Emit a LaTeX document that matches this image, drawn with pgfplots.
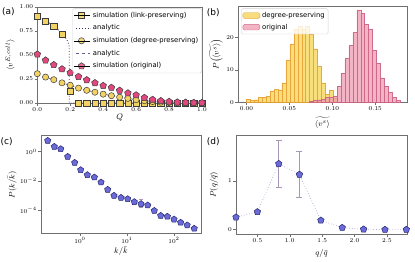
\documentclass[border=0pt]{standalone}
\usepackage{fontspec}
\setsansfont{DejaVu Sans}
\usepackage{pgfplots}
\pgfplotsset{compat=1.18}
\usetikzlibrary{plotmarks}

\definecolor{goldm}{HTML}{F2D260}
\definecolor{pinkm}{HTML}{E2487F}
\definecolor{bluem}{HTML}{6A6AD8}
\definecolor{bluee}{HTML}{26266E}
\definecolor{edgem}{HTML}{3C3C3C}
\definecolor{framec}{HTML}{707070}
\definecolor{anaA}{HTML}{2E2E5E}
\definecolor{anaB}{HTML}{6A5A94}
\definecolor{histY}{HTML}{F7D14A}
\definecolor{histYe}{HTML}{E6A035}
\definecolor{histP}{HTML}{EE98AE}
\definecolor{histPe}{HTML}{CC6283}
\definecolor{errc}{HTML}{A898B8}
\definecolor{linec}{HTML}{ABA2CF}

\pgfplotsset{
  mpl/.style={
    scale only axis,
    anchor=south west,
    axis line style={framec, line width=0.6pt},
    every tick/.style={framec, line width=0.5pt},
    tick align=outside,
    tick pos=left,
    major tick length=2.6pt,
    minor tick length=1.5pt,
    scaled x ticks=false, scaled y ticks=false,
    tick label style={font=\fontsize{6.5}{7.5}\selectfont, inner sep=1.5pt},
    label style={font=\fontsize{8.2}{9.5}\selectfont, inner sep=0pt},
    legend style={font=\sffamily\fontsize{6.8}{7.5}\selectfont, draw=black!18, fill=white, fill opacity=0.8, text opacity=1, rounded corners=1.5pt, inner sep=1.5pt, row sep=2pt},
    legend cell align=left,
  },
  mleg/.style={legend image code/.code={\draw[##1] plot coordinates {(7pt,0pt)}; \path (0pt,0pt) -- (16pt,0pt);}},
  lleg/.style={legend image code/.code={\draw[##1] (2pt,0pt) -- (16pt,0pt);}},
  hleg/.style={legend image code/.code={\draw[##1] (0pt,-2.8pt) rectangle (17pt,2.8pt);}},
}

\begin{document}
\begin{tikzpicture}
\path[use as bounding box] (0pt,0pt) rectangle (415pt,262pt);

% ---------------- (a)
\begin{axis}[mpl, at={(37.3pt,159pt)}, width=164.7pt, height=96pt,
  xmin=0, xmax=1, ymin=0, ymax=1, clip=false,
  xtick={0,0.2,0.4,0.6,0.8,1}, ytick={0,0.25,0.5,0.75,1},
  xticklabel style={/pgf/number format/.cd, fixed, fixed zerofill, precision=1},
  yticklabel style={/pgf/number format/.cd, fixed, fixed zerofill, precision=2},
  xlabel={$Q$}, ylabel={$\langle v^{E,cell}\rangle$},
  x label style={at={(axis description cs:0.5,-0.15)}, anchor=center},
  y label style={at={(axis description cs:-0.165,0.5)}, anchor=center},
  legend style={at={(1,0.985)}, anchor=north east},
]
\addplot[only marks, mark=square*, mark size=3.1pt, mark options={fill=goldm, draw=edgem, line width=0.5pt}, mleg] coordinates {
(0,0.907) (0.05,0.855) (0.1,0.797) (0.15,0.712) (0.2,0.122) (0.25,0) (0.3,0) (0.35,0) (0.4,0) (0.45,0) (0.5,0) (0.55,0) (0.6,0) (0.65,0) (0.7,0) (0.75,0) (0.8,0) (0.85,0) (0.9,0) (0.95,0) (1.0,0)};
\addlegendentry{simulation (link-preserving)}
\addplot[anaA, dotted, line width=0.8pt, lleg] coordinates {
(0,0.912) (0.025,0.885) (0.05,0.858) (0.075,0.83) (0.1,0.80) (0.125,0.765) (0.15,0.725) (0.165,0.695) (0.175,0.67) (0.185,0.64) (0.19,0.615) (0.194,0.586) (0.194,0) (1,0)};
\addlegendentry{analytic}
\addplot[only marks, mark=*, mark size=3.1pt, mark options={fill=goldm, draw=edgem, line width=0.5pt}, mleg] coordinates {
(0,0.305) (0.05,0.27) (0.1,0.243) (0.15,0.21) (0.2,0.185) (0.25,0.155) (0.3,0.132) (0.35,0.112) (0.4,0.092) (0.45,0.076) (0.5,0.06) (0.55,0.048) (0.6,0.034) (0.65,0.024) (0.7,0.015) (0.75,0.009) (0.8,0.005) (0.85,0.003) (0.9,0.002) (0.95,0.001) (1.0,0.001)};
\addlegendentry{simulation (degree-preserving)}
\addplot[anaB, dashed, line width=0.8pt, lleg] coordinates {
(0,0.30) (0.05,0.268) (0.1,0.24) (0.15,0.21) (0.2,0.183) (0.25,0.156) (0.3,0.133) (0.35,0.112) (0.4,0.093) (0.45,0.076) (0.5,0.061) (0.55,0.047) (0.6,0.035) (0.65,0.025) (0.7,0.016) (0.75,0.009) (0.8,0.004) (0.85,0.001) (0.9,0) (1,0)};
\addlegendentry{analytic}
\addplot[only marks, mark=pentagon*, mark size=3.5pt, mark options={fill=pinkm, draw=edgem, line width=0.5pt}, mleg] coordinates {
(0,0.507) (0.05,0.445) (0.1,0.397) (0.15,0.353) (0.2,0.315) (0.25,0.274) (0.3,0.24) (0.35,0.209) (0.4,0.18) (0.45,0.16) (0.5,0.13) (0.55,0.103) (0.6,0.082) (0.65,0.055) (0.7,0.035) (0.75,0.022) (0.8,0.014) (0.85,0.008) (0.9,0.005) (0.95,0.003) (1.0,0.002)};
\addlegendentry{simulation (original)}
\end{axis}

% ---------------- (b)
\begin{axis}[mpl, at={(238pt,159.7pt)}, width=169pt, height=96.3pt,
  xmin=-0.0098, xmax=0.187, ymin=0, ymax=29.7,
  xtick={0,0.05,0.1,0.15}, ytick={0,10,20},
  xticklabel style={/pgf/number format/.cd, fixed, fixed zerofill, precision=2},
  xlabel={$\widetilde{\langle v^{s}\rangle}$}, ylabel={$P\big(\widetilde{\langle v^{s}\rangle}\big)$},
  x label style={at={(axis description cs:0.5,-0.21)}, anchor=center},
  y label style={at={(axis description cs:-0.13,0.5)}, anchor=center},
  legend style={at={(0.018,0.974)}, anchor=north west, row sep=1pt},
]
\addplot[ybar interval, fill=histY, fill opacity=0.72, draw=histYe, draw opacity=0.9, line width=0.4pt, hleg] table {
0.0000 1.0
0.0046 0.5
0.0092 0.8
0.0138 1.5
0.0184 1.6
0.0230 2.0
0.0276 3.5
0.0322 4.0
0.0368 3.8
0.0414 6.0
0.0460 13.0
0.0506 18.0
0.0552 22.5
0.0598 23.5
0.0644 22.5
0.0690 23.5
0.0736 21.0
0.0782 16.5
0.0828 11.0
0.0874 6.0
0.0920 2.5
0.0966 3.8
0.1012 1.2
0.1058 0
};
\addlegendentry{degree-preserving}
\addplot[ybar interval, fill=histP, fill opacity=0.72, draw=histPe, draw opacity=0.9, line width=0.4pt, hleg] table {
0.0733 0.3
0.0779 0.5
0.0825 0.8
0.0871 1.0
0.0917 1.5
0.0963 1.5
0.1009 2.0
0.1055 5.0
0.1101 9.0
0.1147 13.5
0.1193 17.5
0.1239 21.5
0.1285 28.5
0.1331 27.5
0.1377 24.0
0.1423 22.5
0.1469 16.0
0.1515 12.0
0.1561 7.5
0.1607 5.0
0.1653 3.0
0.1699 1.5
0.1745 0.5
0.1791 0
};
\addlegendentry{original}
\end{axis}

% ---------------- (c)
\begin{axis}[mpl, at={(41pt,29pt)}, width=160pt, height=98pt,
  xmode=log, ymode=log, xmin=0.148, xmax=375, ymin=2.8e-6, ymax=13.8,
  xtick={1,10,100}, ytick={1,1e-2,1e-4}, yminorticks=false,
  xlabel={$k/\bar{k}$}, ylabel={$P(k/\bar{k})$},
  x label style={at={(axis description cs:0.5,-0.19)}, anchor=center},
  y label style={at={(axis description cs:-0.18,0.49)}, anchor=center},
]
\addplot[errc, line width=0.6pt, mark=-, mark size=1.8pt] coordinates {(10.33,7.6e-4) (10.33,4.5e-4)};
\addplot[errc, line width=0.6pt, mark=-, mark size=1.8pt] coordinates {(14.32,5.0e-4) (14.32,2.7e-4)};
\addplot[errc, line width=0.6pt, mark=-, mark size=1.8pt] coordinates {(19.86,5.6e-4) (19.86,1.6e-4)};
\addplot[errc, line width=0.6pt, mark=-, mark size=1.8pt] coordinates {(27.54,3.1e-4) (27.54,1.5e-4)};
\addplot[only marks, mark=pentagon*, mark size=3.3pt, mark options={fill=bluem, draw=bluee, line width=0.5pt}] coordinates {
(0.2056,5.66) (0.2844,2.20) (0.389,1.53) (0.547,0.458) (0.771,0.178) (1.033,0.0564) (1.432,0.0257) (2.018,0.0178) (2.799,0.00813) (3.882,0.00257) (5.284,0.0010) (7.447,7.24e-4) (10.33,5.89e-4) (14.32,3.72e-4) (19.86,2.69e-4) (27.54,2.19e-4) (38.02,9.33e-5) (52.0,4.27e-5) (72.1,3.72e-5) (100,2.40e-5) (138.0,1.45e-5) (190.5,9.55e-6) (269.2,5.62e-6)};
\end{axis}

% ---------------- (d)
\begin{axis}[mpl, at={(236pt,28pt)}, width=171pt, height=99pt,
  xmin=0.17, xmax=2.81, ymin=-0.09, ymax=1.94, clip=false,
  xtick={0.5,1,1.5,2,2.5}, ytick={0,1},
  xticklabel style={/pgf/number format/.cd, fixed, fixed zerofill, precision=1},
  xlabel={$q/\bar{q}$}, ylabel={$P(q/\bar{q})$},
  x label style={at={(axis description cs:0.5,-0.195)}, anchor=center},
  y label style={at={(axis description cs:-0.13,0.495)}, anchor=center},
]
\addplot[errc, line width=0.7pt, mark=-, mark size=3pt] coordinates {(0.83,0.86) (0.83,1.84)};
\addplot[errc, line width=0.7pt, mark=-, mark size=3pt] coordinates {(1.15,0.66) (1.15,1.60)};
\addplot[linec, dotted, line width=0.7pt, mark=pentagon*, mark size=3.4pt, mark options={solid, fill=bluem, draw=bluee, line width=0.5pt}] coordinates {
(0.17,0.253) (0.50,0.363) (0.83,1.35) (1.15,1.13) (1.48,0.19) (1.81,0.04) (2.14,0.007) (2.47,0.0) (2.80,0.0)};
\end{axis}

\node[font=\sffamily\fontsize{9}{10}\selectfont] at (8.3pt,250pt) {(a)};
\node[font=\sffamily\fontsize{9}{10}\selectfont] at (213.3pt,249pt) {(b)};
\node[font=\sffamily\fontsize{9}{10}\selectfont] at (6.7pt,120pt) {(c)};
\node[font=\sffamily\fontsize{9}{10}\selectfont] at (213.3pt,120.5pt) {(d)};
\end{tikzpicture}
\end{document}
